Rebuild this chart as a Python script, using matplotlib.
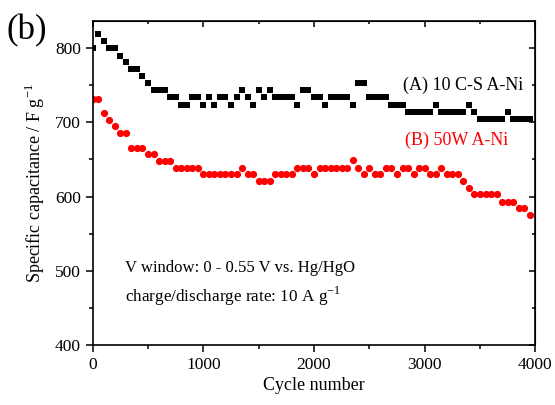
import matplotlib
matplotlib.use("Agg")
import matplotlib.pyplot as plt
from matplotlib.ticker import MultipleLocator

plt.rcParams['font.family'] = ['Liberation Serif', 'DejaVu Serif']
plt.rcParams['mathtext.fontset'] = 'custom'
plt.rcParams['mathtext.rm'] = 'Liberation Serif'

cycles = list(range(0, 4000, 50))

cap_A = [800, 819, 809, 800, 800, 790, 781, 772, 772, 762,
         753, 743, 743, 743, 734, 734, 724, 724, 734, 734,
         724, 734, 724, 734, 734, 724, 734, 743, 734, 724,
         743, 734, 743, 734, 734, 734, 734, 724, 743, 743,
         734, 734, 724, 734, 734, 734, 734, 724, 753, 753,
         734, 734, 734, 734, 724, 724, 724, 714, 714, 714,
         714, 714, 724, 714, 714, 714, 714, 714, 724, 714,
         704, 704, 704, 704, 704, 714, 704, 704, 704, 704]

cap_B = [731, 731, 712, 703, 695, 685, 685, 666, 666, 666,
         657, 657, 648, 648, 648, 639, 639, 639, 639, 639,
         630, 630, 630, 630, 630, 630, 630, 639, 630, 630,
         621, 621, 621, 630, 630, 630, 630, 639, 639, 639,
         630, 639, 639, 639, 639, 639, 639, 649, 639, 630,
         639, 630, 630, 639, 639, 630, 639, 639, 630, 639,
         639, 630, 630, 639, 630, 630, 630, 621, 612, 603,
         603, 603, 603, 603, 593, 593, 593, 584, 584, 575]

fig = plt.figure(figsize=(5.55, 4.05), dpi=100)
ax = fig.add_axes([0.167, 0.148, 0.7975, 0.801])

ax.plot(cycles, cap_A, linestyle='none', marker='s', markersize=4.6,
        color='black', markeredgewidth=0)
ax.plot(cycles, cap_B, linestyle='none', marker='o', markersize=5.2,
        color='red', markeredgewidth=0)

ax.set_xlim(0, 4000)
ax.set_ylim(400, 837)
ax.xaxis.set_major_locator(MultipleLocator(1000))
ax.xaxis.set_minor_locator(MultipleLocator(500))
ax.yaxis.set_major_locator(MultipleLocator(100))
ax.yaxis.set_minor_locator(MultipleLocator(50))

ax.tick_params(which='both', direction='out', top=False, right=False,
               labelsize=12.5, width=1.1)
ax.tick_params(which='major', length=5)
ax.tick_params(which='minor', length=3)

# inward ticks on top and right
axt = ax.secondary_xaxis('top')
axt.xaxis.set_major_locator(MultipleLocator(1000))
axt.xaxis.set_minor_locator(MultipleLocator(500))
axt.tick_params(which='both', direction='in', labeltop=False, width=1.1)
axt.tick_params(which='major', length=4)
axt.tick_params(which='minor', length=2.5)
axr = ax.secondary_yaxis('right')
axr.yaxis.set_major_locator(MultipleLocator(100))
axr.yaxis.set_minor_locator(MultipleLocator(50))
axr.tick_params(which='both', direction='in', labelright=False, width=1.1)
axr.tick_params(which='major', length=4)
axr.tick_params(which='minor', length=2.5)

for s in ax.spines.values():
    s.set_linewidth(1.2)

ax.set_xlabel('Cycle number', fontsize=13, labelpad=3)
ax.set_ylabel('Specific capacitance / F g$^{-1}$', fontsize=13, labelpad=6)

ax.text(2800, 750, '(A) 10 C-S A-Ni', fontsize=13, color='black', va='center')
ax.text(2820, 676, '(B) 50W A-Ni', fontsize=13, color='red', va='center')
ax.text(290, 504, 'V window: 0 - 0.55 V vs. Hg/HgO', fontsize=12, va='center')
ax.text(290, 466, 'charge/discharge rate: 10 A g$^{-1}$', fontsize=12.3, va='center')

fig.text(0.012, 0.965, '(b)', fontsize=25, va='top', ha='left')

fig.savefig('out.png', dpi=100)
